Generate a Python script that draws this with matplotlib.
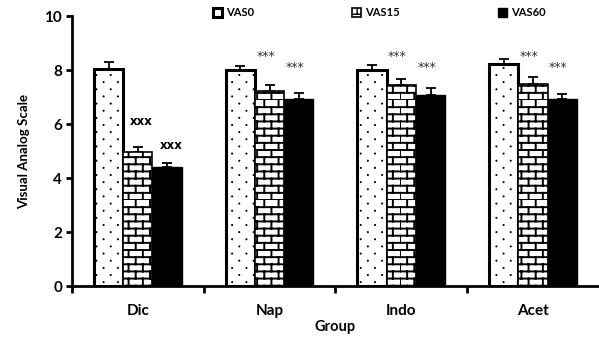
import os
os.environ.setdefault("MPLBACKEND", "Agg")
import numpy as np
import matplotlib.pyplot as plt
from matplotlib import hatch as mhatch
from matplotlib.path import Path
from matplotlib.ticker import FixedLocator

groups = ["Dic", "Nap", "Indo", "Acet"]
series = ["VAS0", "VAS15", "VAS60"]
vas0 = [8.04, 8.00, 8.00, 8.22]
vas15 = [4.96, 7.22, 7.44, 7.48]
vas60 = [4.40, 6.93, 7.07, 6.93]
err0 = [0.24, 0.16, 0.17, 0.18]
err15 = [0.19, 0.22, 0.23, 0.26]
err60 = [0.15, 0.22, 0.26, 0.18]
# significance marks: (group, series index, y, text)
marks = [(0, 1, 6.1, "xxx"), (0, 2, 5.2, "xxx"),
         (1, 1, 8.5, "***"), (1, 2, 8.1, "***"),
         (2, 1, 8.5, "***"), (2, 2, 8.1, "***"),
         (3, 1, 8.5, "***"), (3, 2, 8.1, "***")]


class BrickHatch(mhatch.HatchPatternBase):
    # brick texture, used for the '+' hatch
    rows, cols = 14, 7

    def __init__(self, hatch, density):
        self.on = "+" in hatch
        self.num_vertices = (self.rows * 2 + self.rows * self.cols * 2) if self.on else 0

    def set_vertices_and_codes(self, vertices, codes):
        k = 0
        for i in range(self.rows):
            y0 = i / self.rows
            vertices[k] = (0, y0); vertices[k + 1] = (1, y0)
            codes[k] = Path.MOVETO; codes[k + 1] = Path.LINETO
            k += 2
            shift = 0.5 * (i % 2) / self.cols
            for j in range(self.cols):
                xx = j / self.cols + shift
                vertices[k] = (xx, y0); vertices[k + 1] = (xx, y0 + 1 / self.rows)
                codes[k] = Path.MOVETO; codes[k + 1] = Path.LINETO
                k += 2


class DotHatch(mhatch.HatchPatternBase):
    # sparse staggered dots, used for the '.' hatch
    rows, cols, r = 14, 7, 0.006

    def __init__(self, hatch, density):
        self.on = "." in hatch
        self.circle = Path.unit_circle()
        self.n = len(self.circle.vertices)
        self.num_vertices = self.rows * self.cols * self.n if self.on else 0

    def set_vertices_and_codes(self, vertices, codes):
        k = 0
        for i in range(self.rows):
            shift = 0.5 * (i % 2) / self.cols
            for j in range(self.cols):
                cx = j / self.cols + shift + 0.25 / self.cols
                cy = (i + 0.5) / self.rows
                vertices[k:k + self.n] = self.circle.vertices * self.r + (cx, cy)
                codes[k:k + self.n] = self.circle.codes
                k += self.n


mhatch._hatch_types = [BrickHatch, DotHatch]

plt.rcParams["font.family"] = ["Lato", "DejaVu Sans"]
plt.rcParams["font.weight"] = "bold"
plt.rcParams["hatch.linewidth"] = 1.4

fig = plt.figure(figsize=(5.99, 3.37), dpi=100)
ax = fig.add_axes([0.120, 0.151, 0.880, 0.8015])

x = np.arange(len(groups))
w = 0.222
vals = [vas0, vas15, vas60]
errs = [err0, err15, err60]
styles = [dict(facecolor="white", hatch=".", edgecolor="black", linewidth=2.2),
          dict(facecolor="white", hatch="+", edgecolor="black", linewidth=1.2),
          dict(facecolor="black", edgecolor="black", linewidth=1.0)]
hatch_lw = [0.6, 1.4, 1.0]
handles = []
for k in range(3):
    plt.rcParams["hatch.linewidth"] = hatch_lw[k]
    pos = x + (k - 1) * w
    b = ax.bar(pos, vals[k], w, label=series[k], zorder=2, **styles[k])
    for p in b:
        if hasattr(p, "set_hatch_linewidth"):
            p.set_hatch_linewidth(hatch_lw[k])
    handles.append(b)
    ax.errorbar(pos, vals[k], yerr=[np.zeros(4), errs[k]], fmt="none",
                ecolor="black", elinewidth=1.3, capsize=3.6, capthick=1.3, zorder=1)

for g, s, y, t in marks:
    if t == "xxx":
        ax.text(x[g] + (s - 1) * w + 0.03, y, t, ha="center", va="center",
                fontsize=8.5, fontweight="bold", family="DejaVu Sans")
    else:
        ax.text(x[g] + (s - 1) * w - 0.03, y, t, ha="center", va="center",
                fontsize=9, fontweight="normal", color="#333333", family="DejaVu Sans")

ax.set_xlim(-0.5, 3.5)
ax.set_ylim(0, 10)
ax.set_yticks([0, 2, 4, 6, 8, 10])
ax.set_xticks(x)
ax.set_xticklabels(groups)
ax.xaxis.set_minor_locator(FixedLocator([-0.5, 0.5, 1.5, 2.5]))
ax.tick_params(axis="x", which="major", length=0, pad=13, labelsize=11)
ax.tick_params(axis="x", which="minor", length=5, width=2, direction="out")
ax.tick_params(axis="y", length=4, width=2, pad=3, labelsize=11)
for sp in ["top", "right"]:
    ax.spines[sp].set_visible(False)
for sp in ["left", "bottom"]:
    ax.spines[sp].set_linewidth(2)
ax.set_ylabel("Visual Analog Scale", fontsize=9.5, fontweight="bold", labelpad=10)
ax.set_xlabel("Group", fontsize=10.5, fontweight="bold", labelpad=1)

leg = fig.legend(handles=handles, labels=series, loc="center left",
                 bbox_to_anchor=(0.356, 0.962), ncol=3, frameon=False,
                 fontsize=8, handlelength=0.75, handleheight=0.75, handletextpad=0.4,
                 columnspacing=8.85, borderaxespad=0, borderpad=0)
# the VAS0 key is a plain open square in the original
leg.legend_handles[0].set_hatch(None)
leg.legend_handles[0].set_linewidth(2.2)

fig.savefig("out.png", dpi=100)
